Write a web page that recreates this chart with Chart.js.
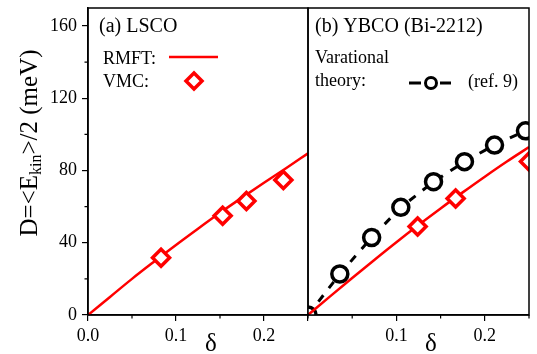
<!DOCTYPE html>
<html>
<head>
<meta charset="utf-8">
<script src="https://cdn.jsdelivr.net/npm/chart.js@4.4.0/dist/chart.umd.min.js"></script>
<style>
  html, body { margin: 0; padding: 0; background: #fff; }
  #wrap { position: relative; width: 537px; height: 354px; overflow: hidden; }
  canvas { position: absolute; top: 0; }
  #left { left: 0; }
  #right { left: 300px; }
</style>
</head>
<body>
<div id="wrap">
  <canvas id="left" width="312" height="354"></canvas>
  <canvas id="right" width="237" height="354"></canvas>
</div>
<script>
// ---- data ----
// (a) LSCO
const lscoRmftX = [0, 0.025, 0.05, 0.075, 0.1, 0.125, 0.15, 0.175, 0.2, 0.225, 0.25];
const lscoRmftY = [0, 10, 20, 29.5, 38.8, 47.8, 56.6, 65, 73.2, 81.3, 89.5];
const lscoVmcX = [0.083, 0.153, 0.180, 0.222];
const lscoVmcY = [31.7, 55, 63.1, 74.8];

// (b) YBCO (Bi-2212)
const ybcoRmftX = [0, 0.025, 0.05, 0.075, 0.1, 0.125, 0.15, 0.175, 0.2, 0.225, 0.25];
const ybcoRmftY = [0, 10.3, 20.5, 30.5, 40.3, 49.8, 59, 67.9, 76.6, 85, 93];
const ybcoVmcX = [0.124, 0.167, 0.25];
const ybcoVmcY = [49, 64.5, 85];
const ybcoVarX = [0, 0.036, 0.072, 0.105, 0.142, 0.177, 0.211, 0.246];
const ybcoVarY = [0, 22.7, 42.9, 59.6, 73.8, 84.9, 94.1, 102];

// axes
const xMin = 0, xMax = 0.25, xStep = 0.1;
const yMin = 0, yMax = 170, yStep = 40;
const xMinor = [0.05, 0.15, 0.25];
const yMinor = [20, 60, 100, 140];
const yTitleParts = ['D=<E', 'kin', '>/2 (meV)'];
const xTitle = 'δ';

// labels
const panelA = '(a) LSCO';
const panelB = '(b) YBCO (Bi-2212)';
const legRmft = 'RMFT:';
const legVmc = 'VMC:';
const legVar = ['Varational', 'theory:'];
const legRef = '(ref. 9)';

const RED = '#f00';
const SERIF = '"Liberation Serif", "Times New Roman", serif';
Chart.defaults.font.family = SERIF;
Chart.defaults.color = '#000';

const pts = (xs, ys) => xs.map((x, i) => ({ x, y: ys[i] }));

function diamond(ctx, x, y, r) {
  ctx.beginPath();
  ctx.moveTo(x, y - r); ctx.lineTo(x + r, y); ctx.lineTo(x, y + r); ctx.lineTo(x - r, y);
  ctx.closePath();
}

// box + minor ticks + x title
const framePlugin = {
  id: 'frame',
  afterDraw(chart, args, opts) {
    const { ctx, chartArea: a, scales } = chart;
    ctx.save();
    ctx.strokeStyle = '#000';
    ctx.lineWidth = 1.5;
    ctx.strokeRect(a.left, a.top, a.right - a.left, a.bottom - a.top);
    ctx.lineWidth = 1.2;
    ctx.beginPath();
    xMinor.forEach(v => {
      const px = scales.x.getPixelForValue(v);
      ctx.moveTo(px, a.bottom); ctx.lineTo(px, a.bottom + 3.5);
    });
    if (opts.yMinor) {
      yMinor.forEach(v => {
        const py = scales.y.getPixelForValue(v);
        ctx.moveTo(a.left, py); ctx.lineTo(a.left - 3.5, py);
      });
    }
    ctx.stroke();
    ctx.fillStyle = '#000';
    ctx.font = '25px ' + SERIF;
    ctx.textAlign = 'center';
    ctx.textBaseline = 'alphabetic';
    ctx.fillText(xTitle, opts.deltaX, 351);
    ctx.restore();
  }
};

const yTitlePlugin = {
  id: 'yTitle',
  afterDraw(chart) {
    const ctx = chart.ctx;
    ctx.save();
    ctx.translate(37, 143);
    ctx.rotate(-Math.PI / 2);
    ctx.fillStyle = '#000';
    ctx.textBaseline = 'alphabetic';
    const big = '25px ' + SERIF, small = '16px ' + SERIF;
    ctx.font = big;
    const w1 = ctx.measureText(yTitleParts[0]).width;
    const w3 = ctx.measureText(yTitleParts[2]).width;
    ctx.font = small;
    const w2 = ctx.measureText(yTitleParts[1]).width;
    let x = -(w1 + w2 + w3) / 2;
    ctx.font = big; ctx.fillText(yTitleParts[0], x, 0); x += w1;
    ctx.font = small; ctx.fillText(yTitleParts[1], x, 4); x += w2;
    ctx.font = big; ctx.fillText(yTitleParts[2], x, 0);
    ctx.restore();
  }
};

const legendA = {
  id: 'legendA',
  afterDraw(chart) {
    const ctx = chart.ctx;
    ctx.save();
    ctx.fillStyle = '#000';
    ctx.textBaseline = 'alphabetic';
    ctx.font = '20px ' + SERIF;
    ctx.fillText(panelA, 99, 32);
    ctx.font = '18px ' + SERIF;
    ctx.fillText(legRmft, 103, 64);
    ctx.fillText(legVmc, 103, 87);
    ctx.strokeStyle = RED;
    ctx.lineWidth = 2.5;
    ctx.beginPath(); ctx.moveTo(169, 57); ctx.lineTo(218, 57); ctx.stroke();
    ctx.lineWidth = 3.5;
    ctx.fillStyle = '#fff';
    diamond(ctx, 194, 81, 8);
    ctx.fill(); ctx.stroke();
    ctx.restore();
  }
};

const legendB = {
  id: 'legendB',
  afterDraw(chart) {
    const ctx = chart.ctx;
    ctx.save();
    ctx.fillStyle = '#000';
    ctx.textBaseline = 'alphabetic';
    ctx.font = '20px ' + SERIF;
    ctx.fillText(panelB, 15, 32);
    ctx.font = '18px ' + SERIF;
    ctx.fillText(legVar[0], 15, 63);
    ctx.fillText(legVar[1], 15, 86);
    ctx.fillText(legRef, 168, 87);
    ctx.strokeStyle = '#000';
    ctx.lineWidth = 3;
    ctx.beginPath();
    ctx.moveTo(109, 83); ctx.lineTo(121, 83);
    ctx.moveTo(140, 83); ctx.lineTo(151, 83);
    ctx.stroke();
    ctx.fillStyle = '#fff';
    ctx.beginPath(); ctx.arc(131, 83, 5.5, 0, Math.PI * 2); ctx.fill(); ctx.stroke();
    ctx.restore();
  }
};

function xScale(hideZero) {
  return {
    type: 'linear', min: xMin, max: xMax,
    border: { display: true, color: '#000', width: 1.5 },
    grid: { drawOnChartArea: false, drawTicks: true, tickLength: 6, color: '#000', lineWidth: 1.2 },
    ticks: {
      stepSize: xStep, includeBounds: false, autoSkip: false, maxRotation: 0, padding: 4,
      font: { size: 18 }, color: '#000',
      callback: v => (hideZero && v === 0) ? '' : v.toFixed(1)
    },
    afterFit: s => { s.height = 39; s.paddingLeft = 0; s.paddingRight = 0; }
  };
}

const common = {
  responsive: false,
  animation: false,
  events: [],
  plugins: { legend: { display: false }, tooltip: { enabled: false } }
};

new Chart(document.getElementById('left'), {
  type: 'scatter',
  data: {
    datasets: [
      {
        data: pts(lscoVmcX, lscoVmcY), pointStyle: 'rectRot', pointRadius: 8.5,
        borderColor: RED, backgroundColor: '#fff', pointBorderWidth: 3.5, clip: 0
      },
      {
        data: pts(lscoRmftX, lscoRmftY), showLine: true, borderColor: RED, borderWidth: 2.5,
        pointRadius: 0, cubicInterpolationMode: 'monotone', clip: 0
      }
    ]
  },
  options: {
    ...common,
    layout: { autoPadding: false, padding: { left: 0, right: 4, top: 8, bottom: 0 } },
    scales: {
      x: xScale(false),
      y: {
        type: 'linear', min: yMin, max: yMax,
        border: { display: true, color: '#000', width: 1.5 },
        grid: { drawOnChartArea: false, drawTicks: true, tickLength: 6, color: '#000', lineWidth: 1.2 },
        ticks: { stepSize: yStep, includeBounds: false, padding: 5, font: { size: 18 }, color: '#000' },
        afterFit: s => { s.width = 88; s.paddingTop = 0; s.paddingBottom = 0; }
      }
    },
    plugins: { ...common.plugins, frame: { yMinor: true, deltaX: 211 } }
  },
  plugins: [framePlugin, yTitlePlugin, legendA]
});

new Chart(document.getElementById('right'), {
  type: 'scatter',
  data: {
    datasets: [
      {
        data: pts(ybcoVmcX, ybcoVmcY), pointStyle: 'rectRot', pointRadius: 8.5,
        borderColor: RED, backgroundColor: '#fff', pointBorderWidth: 3.5, clip: 0
      },
      {
        data: pts(ybcoRmftX, ybcoRmftY), showLine: true, borderColor: RED, borderWidth: 2.5,
        pointRadius: 0, cubicInterpolationMode: 'monotone', clip: 0
      },
      {
        data: pts(ybcoVarX, ybcoVarY), showLine: true, borderColor: '#000', borderWidth: 3,
        borderDash: [8, 9], pointRadius: 8, pointBorderWidth: 3.5, pointBorderColor: '#000',
        pointBackgroundColor: '#fff', clip: 0
      }
    ]
  },
  options: {
    ...common,
    layout: { autoPadding: false, padding: { left: 8, right: 8, top: 8, bottom: 0 } },
    scales: {
      x: xScale(true),
      y: {
        type: 'linear', min: yMin, max: yMax, display: false,
        afterFit: s => { s.paddingTop = 0; s.paddingBottom = 0; }
      }
    },
    plugins: { ...common.plugins, frame: { yMinor: false, deltaX: 131 } }
  },
  plugins: [framePlugin, legendB]
});
</script>
</body>
</html>
